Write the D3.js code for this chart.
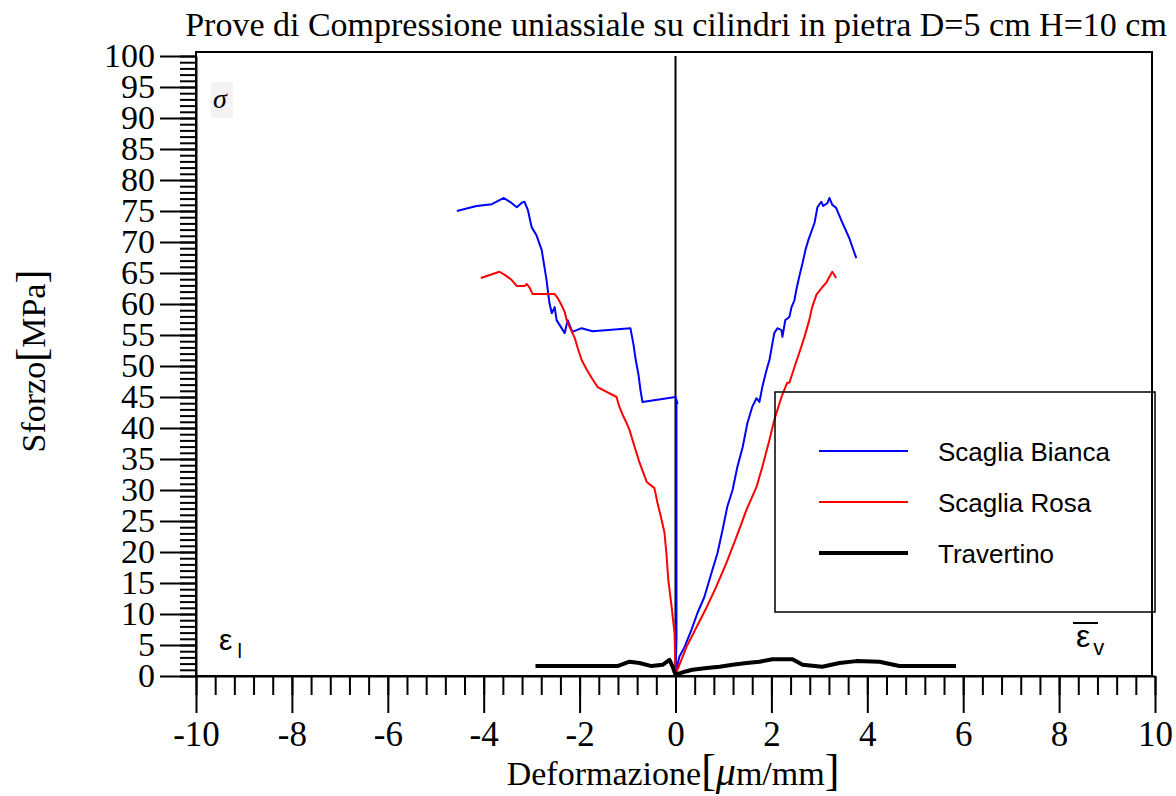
<!DOCTYPE html>
<html>
<head>
<meta charset="utf-8">
<script src="https://cdn.jsdelivr.net/npm/d3@7"></script>
<style>
  html, body { margin: 0; padding: 0; background: #fff; }
  svg { display: block; }
</style>
</head>
<body>
<svg id="chart" width="1176" height="796"></svg>
<script>
// ---------- DATA ----------
const titleText = "Prove di Compressione uniassiale su cilindri in pietra D=5 cm H=10 cm";
const seriesNames = ["Scaglia Bianca", "Scaglia Rosa", "Travertino"];
const xTicks = [-10, -8, -6, -4, -2, 0, 2, 4, 6, 8, 10];
const yTicks = [0, 5, 10, 15, 20, 25, 30, 35, 40, 45, 50, 55, 60, 65, 70, 75, 80, 85, 90, 95, 100];

// Scaglia Bianca — lateral strain branch (from origin outward, negative x)
const biancaLateral = [
  [0, 0], [0.02, 5.8], [0.02, 18.7], [0.02, 31.6], [0.02, 41.3], [0.02, 44.5], [0.04, 44.0], [0, 45.0],
  [-0.69, 44.2], [-0.73, 46.1], [-0.77, 48.5], [-0.83, 51.0], [-0.875, 53.4], [-0.94, 56.1],
  [-1.73, 55.6], [-1.96, 56.1], [-2.15, 55.5], [-2.25, 57.4], [-2.31, 55.3], [-2.48, 57.4],
  [-2.52, 59.5], [-2.58, 58.5], [-2.63, 60.2], [-2.69, 63.9], [-2.79, 68.7], [-2.9, 71.1],
  [-3.0, 72.4], [-3.08, 75.2], [-3.15, 76.5], [-3.21, 76.3], [-3.31, 75.6], [-3.42, 76.3],
  [-3.58, 77.1], [-3.83, 76.1], [-4.15, 75.8], [-4.56, 75.0]
];
// Scaglia Bianca — axial strain branch
const biancaAxial = [
  [0, 0], [0.02, 1.0], [0.08, 3.1], [0.19, 4.7], [0.33, 7.4], [0.46, 10.2], [0.6, 12.7],
  [0.75, 16.6], [0.875, 19.8], [0.98, 23.5], [1.08, 27.3], [1.19, 30.0], [1.29, 33.7],
  [1.4, 36.9], [1.5, 40.8], [1.6, 43.4], [1.69, 44.8], [1.75, 44.2], [1.81, 46.6], [1.9, 49.4],
  [1.96, 51.0], [2.06, 55.3], [2.125, 56.1], [2.21, 55.8], [2.23, 54.7], [2.29, 57.4],
  [2.375, 57.9], [2.42, 59.5], [2.48, 60.6], [2.52, 62.3], [2.58, 64.4], [2.65, 66.6],
  [2.71, 68.7], [2.77, 70.3], [2.9, 73.1], [2.96, 75.6], [3.04, 76.5], [3.08, 75.8],
  [3.17, 76.3], [3.21, 77.1], [3.27, 76.0], [3.35, 75.5], [3.48, 73.1], [3.625, 70.6], [3.77, 67.4]
];
// Scaglia Rosa — lateral strain branch
const rosaLateral = [
  [0, 0], [0, 1.0], [-0.02, 6.9], [-0.08, 11.1], [-0.15, 15.5], [-0.19, 19.8], [-0.23, 23.1],
  [-0.29, 25.2], [-0.375, 27.9], [-0.44, 30.3], [-0.6, 31.3], [-0.75, 34.4], [-0.85, 36.9],
  [-0.96, 39.7], [-1.02, 40.8], [-1.1, 42.1], [-1.17, 43.4], [-1.23, 45.0], [-1.625, 46.6],
  [-1.75, 48.1], [-1.85, 49.4], [-1.96, 51.0], [-2.04, 52.9], [-2.1, 54.5], [-2.21, 56.3],
  [-2.27, 57.4], [-2.31, 58.7], [-2.375, 59.8], [-2.46, 61.0], [-2.52, 61.6], [-2.98, 61.6],
  [-3.04, 62.6], [-3.1, 63.2], [-3.15, 62.9], [-3.31, 62.9], [-3.42, 63.9], [-3.56, 64.7],
  [-3.67, 65.2], [-4.06, 64.2]
];
// Scaglia Rosa — axial strain branch
const rosaAxial = [
  [0, 0], [0.02, 0.6], [0.23, 4.7], [0.44, 7.9], [0.65, 11.1], [0.85, 14.4], [1.06, 18.2],
  [1.27, 22.4], [1.48, 26.8], [1.69, 30.5], [1.81, 33.7], [1.96, 38.1], [2.06, 41.3],
  [2.21, 45.0], [2.33, 47.3], [2.375, 47.3], [2.48, 49.8], [2.58, 52.1], [2.69, 54.7],
  [2.79, 57.4], [2.85, 59.5], [2.94, 61.5], [3.06, 62.7], [3.15, 63.5], [3.21, 64.4],
  [3.27, 65.2], [3.35, 64.2]
];
// Travertino — lateral strain branch
const travertinoLateral = [
  [0, 0.2], [-0.06, 1.5], [-0.125, 2.6], [-0.27, 1.8], [-0.5, 1.6], [-0.75, 2.1],
  [-0.96, 2.3], [-1.21, 1.6], [-2.92, 1.6]
];
// Travertino — axial strain branch
const travertinoAxial = [
  [0, 0.2], [0.15, 0.6], [0.35, 1.0], [0.65, 1.3], [0.92, 1.5], [1.19, 1.8], [1.48, 2.1],
  [1.75, 2.3], [2.02, 2.7], [2.44, 2.7], [2.65, 1.8], [3.06, 1.5], [3.42, 2.1], [3.77, 2.4],
  [4.25, 2.3], [4.67, 1.6], [5.85, 1.6]
];
const seriesColors = ["#0000ff", "#ff0000", "#000000"];
const seriesWidths = [2, 2, 4];

// ---------- CHART ----------
const svg = d3.select("#chart");
const x = d3.scaleLinear().domain([-10, 10]).range([196, 1155]);
const y = d3.scaleLinear().domain([0, 100]).range([676, 56]);
const serif = "'Liberation Serif', 'Times New Roman', serif";
const sans = "'Liberation Sans', Arial, sans-serif";

// frame
svg.append("rect")
  .attr("x", x(-10)).attr("y", y(100) - 4)
  .attr("width", x(10) - x(-10) - 3).attr("height", y(0) - y(100) + 4)
  .attr("fill", "none").attr("stroke", "#000").attr("stroke-width", 2);

// zero vertical line
svg.append("line")
  .attr("x1", x(0)).attr("x2", x(0)).attr("y1", y(100)).attr("y2", y(0))
  .attr("stroke", "#000").attr("stroke-width", 2);

// x axis minor
const xMinor = d3.range(-10, 10.001, 0.4).map(v => +v.toFixed(2));
svg.append("g").attr("transform", `translate(0,${y(0)})`)
  .call(d3.axisBottom(x).tickValues(xMinor).tickSize(19).tickFormat(""))
  .call(g => g.select(".domain").remove())
  .selectAll("line").attr("stroke-width", 2);
// x axis major
const xAx = svg.append("g").attr("transform", `translate(0,${y(0)})`)
  .call(d3.axisBottom(x).tickValues(xTicks).tickSize(37).tickSizeOuter(0).tickPadding(8).tickFormat(d3.format("d")));
xAx.select(".domain").attr("stroke-width", 2);
xAx.selectAll("line").attr("stroke-width", 2);
xAx.selectAll("text").attr("font-family", serif).attr("font-size", 35).attr("fill", "#000")
  .text(d => d < 0 ? "-" + Math.abs(d) : d);

// y axis minor
const yMinor = d3.range(0, 101, 1);
svg.append("g").attr("transform", `translate(${x(-10)},0)`)
  .call(d3.axisLeft(y).tickValues(yMinor).tickSize(16).tickFormat(""))
  .call(g => g.select(".domain").remove())
  .selectAll("line").attr("stroke-width", 2);
// y axis major
const yAx = svg.append("g").attr("transform", `translate(${x(-10)},0)`)
  .call(d3.axisLeft(y).tickValues(yTicks).tickSize(36).tickSizeOuter(0).tickPadding(5));
yAx.select(".domain").attr("stroke-width", 2);
yAx.selectAll("line").attr("stroke-width", 2);
yAx.selectAll("text").attr("font-family", serif).attr("font-size", 34).attr("fill", "#000");

// series
const line = d3.line().x(d => x(d[0])).y(d => y(d[1]));
const seriesData = [
  biancaLateral.slice().reverse().concat(biancaAxial),
  rosaLateral.slice().reverse().concat(rosaAxial),
  travertinoLateral.slice().reverse().concat(travertinoAxial)
];
seriesData.forEach((data, i) => {
  svg.append("path").datum(data)
    .attr("d", line)
    .attr("fill", "none")
    .attr("stroke", seriesColors[i])
    .attr("stroke-width", seriesWidths[i])
    .attr("stroke-linejoin", "round");
});

// title
svg.append("text").attr("x", 676).attr("y", 36).attr("text-anchor", "middle")
  .attr("font-family", serif).attr("font-size", 34).text(titleText);

// axis labels
const yl = svg.append("text").attr("transform", "translate(45,361) rotate(-90)")
  .attr("text-anchor", "middle").attr("font-family", serif).attr("font-size", 34);
yl.append("tspan").text("Sforzo");
yl.append("tspan").attr("font-size", 42).text("[");
yl.append("tspan").text("MPa");
yl.append("tspan").attr("font-size", 42).text("]");

const xl = svg.append("text").attr("x", 673).attr("y", 785)
  .attr("text-anchor", "middle").attr("font-family", serif).attr("font-size", 34);
xl.append("tspan").text("Deformazione");
xl.append("tspan").attr("font-size", 44).text("[");
xl.append("tspan").attr("font-style", "italic").attr("font-size", 40).text("μ");
xl.append("tspan").text("m/mm");
xl.append("tspan").attr("font-size", 44).text("]");

// sigma / epsilon labels
svg.append("rect").attr("x", 211).attr("y", 82).attr("width", 22).attr("height", 36).attr("fill", "#f3f3f3");
svg.append("text").attr("x", 213).attr("y", 108).attr("font-family", serif).attr("font-style", "italic")
  .attr("font-size", 28).text("σ");
const el = svg.append("text").attr("x", 219).attr("y", 650).attr("font-family", sans).attr("font-size", 30);
el.append("tspan").text("ε");
el.append("tspan").attr("font-size", 20).attr("dx", 5).attr("dy", 8).text("l");
const ev = svg.append("text").attr("x", 1076).attr("y", 647).attr("font-family", sans).attr("font-size", 32);
ev.append("tspan").text("ε");
ev.append("tspan").attr("font-size", 22).attr("dx", 3).attr("dy", 8).text("v");
svg.append("line").attr("x1", 1073).attr("x2", 1098).attr("y1", 623).attr("y2", 623)
  .attr("stroke", "#000").attr("stroke-width", 2);

// legend
const lg = svg.append("g");
lg.append("rect").attr("x", 775).attr("y", 392).attr("width", 380).attr("height", 220)
  .attr("fill", "#fff").attr("fill-opacity", 0).attr("stroke", "#000").attr("stroke-width", 1.5);
seriesNames.forEach((name, i) => {
  const ly = 451 + i * 51;
  lg.append("line").attr("x1", 819).attr("x2", 908).attr("y1", ly).attr("y2", ly)
    .attr("stroke", seriesColors[i]).attr("stroke-width", i === 2 ? 4 : 2);
  lg.append("text").attr("x", 938).attr("y", ly + 10).attr("font-family", sans)
    .attr("font-size", 26).attr("fill", "#000").text(name);
});
</script>
</body>
</html>
